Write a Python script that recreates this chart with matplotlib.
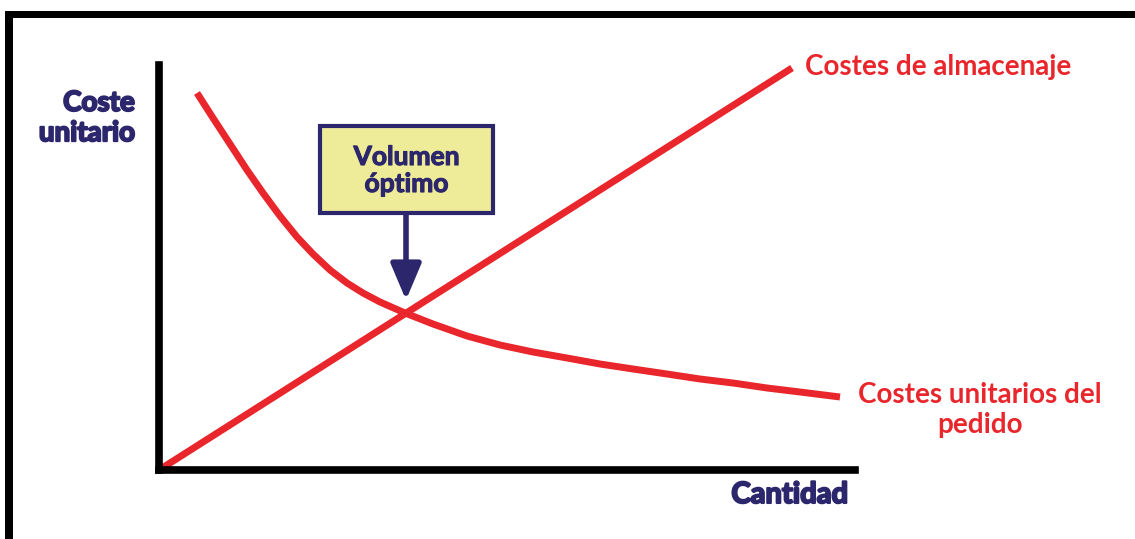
import matplotlib
matplotlib.use('Agg')
import matplotlib.pyplot as plt
import matplotlib.patheffects as pe
from matplotlib.patches import Rectangle

plt.rcParams['font.family'] = ['Lato', 'DejaVu Sans']

# datos (cantidad, coste unitario)
cantidad_alm = [0, 633]
coste_alm = [0, 402]

cantidad_ped = [38, 54, 71, 88, 104, 121, 138, 154, 171, 188, 204, 221, 246,
                274, 308, 341, 374, 408, 441, 474, 508, 541, 574, 608, 641, 681]
coste_ped = [377, 352, 326, 300, 277, 254, 233, 216, 200, 187, 177, 168, 157,
             146, 134, 125, 118, 112, 106, 101, 96, 91, 87, 82, 78, 73]

optimo_x = 247
optimo_flecha = 170
caja = (161, 257, 173, 87)  # x, y, ancho, alto

rojo = '#e8262b'
azul = '#2c276c'
W, H = 1135, 539

def fx(px):
    return px / W

def fy(py):
    return 1 - py / H

fig = plt.figure(figsize=(W / 100, H / 100), dpi=100)
fig.patch.set_facecolor('white')

# marco negro
fig.add_artist(Rectangle((fx(5), 0), 8 / W, fy(11), transform=fig.transFigure,
                         color='black', lw=0))
fig.add_artist(Rectangle((fx(5), fy(18)), 1 - fx(5), 7 / H, transform=fig.transFigure,
                         color='black', lw=0))

ax = fig.add_axes([fx(159), fy(470), (855 - 159) / W, (470 - 65) / H])
ax.set_xlim(0, 696)
ax.set_ylim(0, 405)
ax.set_facecolor('none')
for s in ['top', 'right']:
    ax.spines[s].set_visible(False)
for s in ['left', 'bottom']:
    ax.spines[s].set_linewidth(5.5)
    ax.spines[s].set_color('black')
    ax.spines[s].set_capstyle('projecting')
ax.set_xticks([])
ax.set_yticks([])

ax.plot(cantidad_alm, coste_alm, color=rojo, lw=5, solid_capstyle='butt', clip_on=False)
ax.plot(cantidad_ped, coste_ped, color=rojo, lw=5, solid_capstyle='butt',
        solid_joinstyle='round', clip_on=False)

grueso = [pe.withStroke(linewidth=1.5, foreground=azul)]
grueso_fino = [pe.withStroke(linewidth=0.8, foreground=azul)]

# caja "Volumen optimo"
ax.add_patch(Rectangle(caja[:2], caja[2], caja[3], facecolor='#eeec98',
                       edgecolor=azul, lw=3, zorder=5, clip_on=False))
ax.text(caja[0] + caja[2] / 2, caja[1] + caja[3] / 2 - 1, 'Volumen\nóptimo', color=azul,
        fontsize=19, fontweight='bold', ha='center', va='center', linespacing=1.15,
        zorder=6, path_effects=grueso_fino)
ax.annotate('', xy=(optimo_x, optimo_flecha), xytext=(optimo_x, caja[1]),
            arrowprops=dict(arrowstyle='-|>,head_length=1.3,head_width=0.55',
                            color=azul, lw=4, mutation_scale=17,
                            shrinkA=0, shrinkB=0), zorder=4)

fig.text(fx(135), fy(118), 'Coste\nunitario', color=azul, fontsize=20, fontweight='bold',
         ha='right', va='center', multialignment='right', linespacing=1.2,
         path_effects=grueso)
fig.text(fx(848), fy(495), 'Cantidad', color=azul, fontsize=21, fontweight='bold',
         ha='right', va='center', path_effects=grueso)
fig.text(fx(805), fy(75), 'Costes de almacenaje', color=rojo, fontsize=20,
         fontweight='bold', ha='left', va='baseline')
fig.text(fx(980), fy(410), 'Costes unitarios del\npedido', color=rojo, fontsize=20,
         fontweight='bold', ha='center', va='center', multialignment='center',
         linespacing=1.2)

fig.savefig('out.png', dpi=100)
